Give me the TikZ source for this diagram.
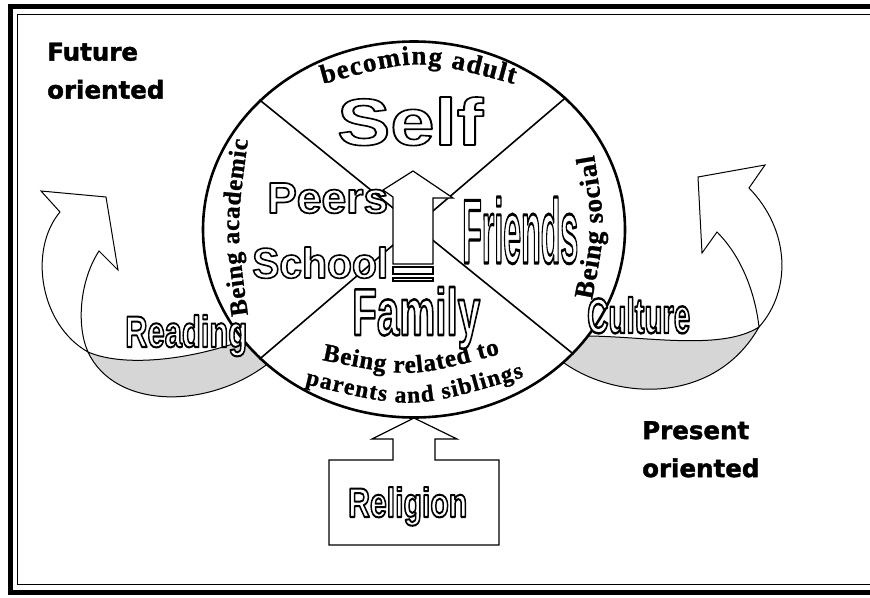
\documentclass[tikz,border=0pt]{standalone}
\usepackage{fontspec}
\usepackage{graphicx}
\usetikzlibrary{shapes.geometric, decorations.text}
\newfontfamily\tagfont{DejaVu Sans}[BoldFeatures={FakeBold=1.6}]
\newfontfamily\wordfont{Liberation Sans}
\newfontfamily\arcfont{Liberation Serif}[BoldFeatures={FakeBold=1}]
% white letters stroked in black (text render mode 2)
\newcommand{\hollowword}[4][1.6]{\resizebox{#2}{#3}{\wordfont\bfseries\fontsize{\the\dimexpr #3*137/100\relax}{10pt}\selectfont\color{white}\special{pdf:literal direct 0 G 2 Tr #1 w 1 j}#4\special{pdf:literal direct 0 Tr}}}
\newcommand{\arcbig}{\arcfont\bfseries\fontsize{27pt}{27pt}\selectfont}
\newcommand{\arcmid}{\arcfont\bfseries\fontsize{25pt}{25pt}\selectfont}
\newcommand{\arcsmall}{\arcfont\bfseries\fontsize{23.5pt}{23.5pt}\selectfont}
\definecolor{cBack}{RGB}{214,214,214}
\tikzset{
	frameouter/.style={line width=5pt},
	frameinner/.style={line width=1pt},
	wheel/.style     ={ellipse, draw=black, line width=2.6pt, fill=white, minimum width=422pt, minimum height=376pt, inner sep=0pt},
	spoke/.style     ={line width=1.6pt},
	blockarrow/.style={draw=black, line width=1.2pt, fill=white, line join=miter},
	ribbon/.style    ={draw=black, line width=1pt, fill=white},
	ribbonback/.style={draw=black, line width=1pt, fill=cBack},
	hollow/.style    ={inner sep=0pt, anchor=base west},
	orient/.style    ={font=\tagfont\bfseries\fontsize{24.5pt}{38pt}\selectfont, align=left, inner sep=0pt, anchor=north west},
}

\begin{document}
\begin{tikzpicture}[x=1pt, y=-1pt]
	\useasboundingbox (0,0) rectangle (870,597);
	% page frame
	\draw[frameouter] (870,6.5) -- (10.5,6.5) -- (10.5,592.5) -- (870,592.5);
	\draw[frameinner] (870,14.5) -- (17.5,14.5) -- (17.5,584) -- (870,584);
	% curved arrows left and right
	\coordinate (lpinch) at (88,352);
	\coordinate (rpinch) at (759,327);
	\filldraw[ribbonback] (lpinch) .. controls (125,368) and (195,360) .. (255,336) -- (270,362) .. controls (210,410) and (115,410) .. (lpinch) -- cycle;
	\filldraw[ribbon] (60,212) -- (41,191) -- (106,197) -- (118,270) -- (99,251) .. controls (80,280) and (76,325) .. (lpinch) .. controls (40,325) and (28,250) .. (60,212) -- cycle;
	\filldraw[ribbonback] (rpinch) .. controls (720,352) and (640,335) .. (578,336) -- (560,360) .. controls (615,402) and (715,405) .. (rpinch) -- cycle;
	\filldraw[ribbon] (749,188) -- (765,165) -- (698,177) -- (702,253) -- (717,232) .. controls (745,260) and (756,300) .. (rpinch) .. controls (792,290) and (790,230) .. (749,188) -- cycle;
	% the wheel
	\node[wheel] (wheel) at (414,229.5) {};
	\draw[spoke] (wheel.140) -- (wheel.322);
	\draw[spoke] (wheel.41) -- (wheel.220);
	\filldraw[blockarrow] (413,171) -- (453,198) -- (433,198) -- (433,264) -- (393,264) -- (393,197) -- (383,190) -- cycle;
	\filldraw[blockarrow] (393,267) rectangle (433,274);
	\filldraw[blockarrow] (393,278) rectangle (433,281);
	\filldraw[blockarrow] (414,418) -- (457,439) -- (435,439) -- (435,460) -- (499,460) -- (499,545) -- (329,545) -- (329,460) -- (393,460) -- (393,439) -- (372,439) -- cycle;
	% texts round the rim
	\path[decorate, decoration={text along path, text={|\arcbig|becoming adult}, text align={fit to path}}] (323,84) .. controls (418,58) .. (514,84);
	\path[decorate, decoration={text along path, text={|\arcmid|Being academic}, text align={fit to path}}] (248,315) .. controls (236,228) .. (248,140);
	\path[decorate, decoration={text along path, text={|\arcbig|Being social}, text align={fit to path}}] (592,300) .. controls (606,228) .. (594,155);
	\path[decorate, decoration={text along path, text={|\arcmid|Being related to}, text align={fit to path}}] (322,360) .. controls (411,378) .. (500,354);
	\path[decorate, decoration={text along path, text={|\arcsmall|parents and siblings}, text align={fit to path}}] (305,384) .. controls (412,410) .. (524,377);
	% outlined words
	\node[hollow] (self) at (337,145) {\hollowword{146pt}{48pt}{Self}};
	\node[hollow] (peers) at (267,213) {\hollowword{121pt}{30pt}{Peers}};
	\node[hollow] (school) at (252,278) {\hollowword{136pt}{31pt}{School}};
	\node[hollow] (friends) at (462,263) {\hollowword[3]{116pt}{66pt}{Friends}};
	\node[hollow] (family) at (352,335) {\hollowword[2.5]{128pt}{48pt}{Family}};
	\node[hollow] (reading) at (125,347) {\hollowword[2]{122pt}{32pt}{Reading}};
	\node[hollow] (culture) at (587,333) {\hollowword[2.4]{103pt}{36pt}{Culture}};
	\node[hollow] (religion) at (348,517) {\hollowword[2]{119pt}{30pt}{Religion}};
	\node[orient] (future) at (47,42.5) {Future\\oriented};
	\node[orient] (present) at (642,421) {Present\\oriented};
\end{tikzpicture}
\end{document}
